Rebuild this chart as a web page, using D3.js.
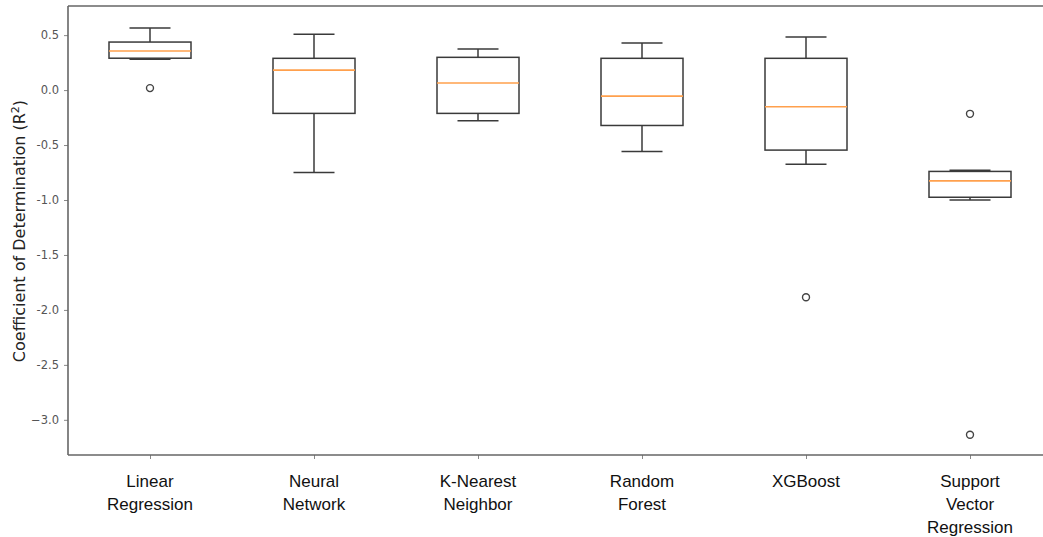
<!DOCTYPE html>
<html>
<head>
<meta charset="utf-8">
<script src="https://cdn.jsdelivr.net/npm/d3@7"></script>
<style>
  body { margin: 0; background: #fff; }
  svg { display: block; }
</style>
</head>
<body>
<script>
// data
var categories = [["Linear", "Regression"], ["Neural", "Network"], ["K-Nearest", "Neighbor"],
  ["Random", "Forest"], ["XGBoost"], ["Support", "Vector", "Regression"]]
var whiskerLow  = [0.28, -0.75, -0.28, -0.558, -0.674, -0.999]
var q1          = [0.29, -0.212, -0.212, -0.322, -0.546, -0.975]
var medians     = [0.355, 0.182, 0.064, -0.055, -0.152, -0.826]
var q3          = [0.437, 0.289, 0.298, 0.289, 0.289, -0.74]
var whiskerHigh = [0.565, 0.507, 0.373, 0.428, 0.483, -0.729]
var outliers    = [[0.018], [], [], [], [-1.885], [-0.216, -3.136]]
var yTicks = [0.5, 0.0, -0.5, -1.0, -1.5, -2.0, -2.5, -3.0]
var yTickLabels = ["0.5", "0.0", "-0.5", "-1.0", "-1.5", "-2.0", "-2.5", "\u22123.0"]

var width = 1043, height = 537
var margin = { top: 6, left: 68, bottom: 82 }
var plotBottom = height - margin.bottom

var svg = d3.select('body').append('svg')
  .attr('width', width)
  .attr('height', height)

var x = d3.scaleLinear()
  .domain([0.5, 6.5])
  .range([margin.left, margin.left + 6 * 164])

var y = d3.scaleLinear()
  .domain([-3.32, 0.765])
  .range([plotBottom, margin.top])

var boxW = x(1.25) - x(1)   // half of box width (0.5 wide boxes)
var capW = boxW / 2

var axisColor = '#666'
var boxColor = '#3a3a3a'

// y axis
var yAxis = d3.axisLeft(y)
  .tickValues(yTicks)
  .tickFormat(function(d, i) { return yTickLabels[i] })
  .tickSize(4)
  .tickPadding(5)

var yG = svg.append('g')
  .attr('transform', 'translate(' + margin.left + ',0)')
  .call(yAxis)
yG.select('.domain').remove()
yG.selectAll('line').attr('stroke', '#888')
yG.selectAll('text')
  .attr('fill', '#555')
  .style('font-family', 'DejaVu Sans, sans-serif')
  .style('font-size', '11.5px')

// x axis
var xAxis = d3.axisBottom(x)
  .tickValues(d3.range(1, 7))
  .tickFormat('')
  .tickSize(4)

var xG = svg.append('g')
  .attr('transform', 'translate(0,' + plotBottom + ')')
  .call(xAxis)
xG.select('.domain').remove()
xG.selectAll('line').attr('stroke', '#888')

// spines
svg.append('line')
  .attr('x1', margin.left).attr('x2', width)
  .attr('y1', margin.top).attr('y2', margin.top)
  .attr('stroke', axisColor).attr('stroke-width', 1.6)
svg.append('line')
  .attr('x1', margin.left).attr('x2', width)
  .attr('y1', plotBottom).attr('y2', plotBottom)
  .attr('stroke', axisColor).attr('stroke-width', 1.6)
svg.append('line')
  .attr('x1', margin.left).attr('x2', margin.left)
  .attr('y1', margin.top).attr('y2', plotBottom)
  .attr('stroke', axisColor).attr('stroke-width', 1.6)

// boxes
var boxes = svg.selectAll('g.box')
  .data(categories)
  .enter()
    .append('g')
    .attr('class', 'box')

boxes.each(function(d, i) {
  var g = d3.select(this)
  var cx = x(i + 1)
  // whiskers
  g.append('line')
    .attr('x1', cx).attr('x2', cx)
    .attr('y1', y(q3[i])).attr('y2', y(whiskerHigh[i]))
    .attr('stroke', boxColor).attr('stroke-width', 1.5)
  g.append('line')
    .attr('x1', cx).attr('x2', cx)
    .attr('y1', y(q1[i])).attr('y2', y(whiskerLow[i]))
    .attr('stroke', boxColor).attr('stroke-width', 1.5)
  // caps
  g.append('line')
    .attr('x1', cx - capW).attr('x2', cx + capW)
    .attr('y1', y(whiskerHigh[i])).attr('y2', y(whiskerHigh[i]))
    .attr('stroke', boxColor).attr('stroke-width', 1.5)
  g.append('line')
    .attr('x1', cx - capW).attr('x2', cx + capW)
    .attr('y1', y(whiskerLow[i])).attr('y2', y(whiskerLow[i]))
    .attr('stroke', boxColor).attr('stroke-width', 1.5)
  // box
  g.append('rect')
    .attr('x', cx - boxW)
    .attr('y', y(q3[i]))
    .attr('width', boxW * 2)
    .attr('height', y(q1[i]) - y(q3[i]))
    .attr('fill', 'none')
    .attr('stroke', boxColor).attr('stroke-width', 1.5)
  // median
  g.append('line')
    .attr('x1', cx - boxW).attr('x2', cx + boxW)
    .attr('y1', y(medians[i])).attr('y2', y(medians[i]))
    .attr('stroke', '#ffa04d').attr('stroke-width', 1.6)
  // fliers
  g.selectAll('circle')
    .data(outliers[i])
    .enter()
      .append('circle')
      .attr('cx', cx)
      .attr('cy', function(v) { return y(v) })
      .attr('r', 3.5)
      .attr('fill', 'none')
      .attr('stroke', '#444')
      .attr('stroke-width', 1.4)

  // category label
  var t = g.append('text')
    .attr('text-anchor', 'middle')
    .attr('fill', '#111')
    .style('font-family', 'Liberation Sans, Arial, sans-serif')
    .style('font-size', '17px')
  d.forEach(function(line, k) {
    t.append('tspan')
      .attr('x', cx)
      .attr('y', plotBottom + 32 + k * 23)
      .text(line)
  })
})

// y label
var yl = svg.append('text')
  .attr('transform', 'translate(25,' + 231 + ') rotate(-90)')
  .attr('text-anchor', 'middle')
  .attr('fill', '#222')
  .style('font-family', 'DejaVu Sans, sans-serif')
  .style('font-size', '16px')
yl.append('tspan').text('Coefficient of Determination (R')
yl.append('tspan').attr('dy', -6).style('font-size', '11px').text('2')
yl.append('tspan').attr('dy', 6).text(')')
</script>
</body>
</html>
